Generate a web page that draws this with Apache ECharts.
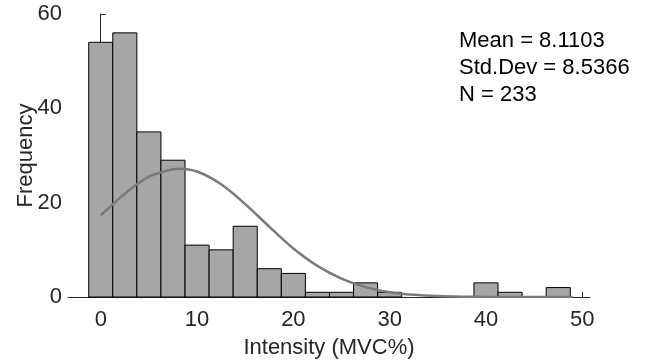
<!DOCTYPE html>
<html>
<head>
<meta charset="utf-8">
<script src="https://cdn.jsdelivr.net/npm/echarts@6/dist/echarts.min.js"></script>
<style>
  html, body { margin: 0; padding: 0; background: #fff; }
  #chart { width: 646px; height: 364px; }
</style>
</head>
<body>
<div id="chart"></div>
<script>
// histogram bins (centres, width 2.5) and counts
const binCenters = [0, 2.5, 5, 7.5, 10, 12.5, 15, 17.5, 20, 22.5, 25, 27.5, 30, 32.5, 35, 37.5, 40, 42.5, 45, 47.5];
const counts = [54, 56, 35, 29, 11, 10, 15, 6, 5, 1, 1, 3, 1, 0, 0, 0, 3, 1, 0, 2];
const binWidth = 2.5;

// fitted normal curve
const curveX = [0, 2.5, 5, 7.5, 8.1, 10, 12.5, 15, 17.5, 20, 22.5, 25, 27.5, 30, 32.5, 35, 37.5, 40, 42.5, 45, 47.5, 49];
const curveY = [17.3, 21.9, 25.5, 27.1, 27.2, 26.6, 23.9, 19.7, 14.9, 10.3, 6.6, 3.9, 2.1, 1.0, 0.46, 0.19, 0.07, 0.02, 0.01, 0, 0, 0];

const xTicks = [0, 10, 20, 30, 40, 50];
const yTicks = [0, 20, 40, 60];
const statsLines = ['Mean = 8.1103', 'Std.Dev = 8.5366', 'N = 233'];

const font = 'Liberation Sans, Arial, Helvetica, sans-serif';
const ink = '#262626';
const fs = 22;

const chart = echarts.init(document.getElementById('chart'));

const option = {
  animation: false,
  grid: { left: 68, right: 56, top: 14, bottom: 67, outerBoundsMode: 'none' },
  xAxis: {
    type: 'value',
    min: -3.4,
    max: 50.8,
    name: 'Intensity (MVC%)',
    nameLocation: 'middle',
    nameGap: 40,
    nameMoveOverlap: false,
    nameTextStyle: { fontFamily: font, fontSize: fs, color: ink },
    splitLine: { show: false },
    axisLine: { lineStyle: { color: ink, width: 1 } },
    axisTick: { show: true, inside: true, length: 5, customValues: xTicks, lineStyle: { color: ink } },
    axisLabel: { customValues: xTicks, fontFamily: font, fontSize: fs, color: ink, margin: 12 }
  },
  yAxis: {
    type: 'value',
    min: 0,
    max: 60,
    interval: 20,
    name: 'Frequency',
    nameLocation: 'middle',
    nameGap: 31,
    nameMoveOverlap: false,
    nameTextStyle: { fontFamily: font, fontSize: fs, color: ink },
    splitLine: { show: false },
    axisLine: { show: true, lineStyle: { color: ink, width: 1 } },
    axisTick: { show: true, inside: true, length: 5, customValues: yTicks, lineStyle: { color: ink } },
    axisLabel: { customValues: yTicks, fontFamily: font, fontSize: fs, color: ink, margin: 6 }
  },
  graphic: statsLines.map((t, i) => ({
    type: 'text',
    left: 459,
    top: 30 + i * 27,
    style: { text: t, fontFamily: font, fontSize: fs, fill: '#000' }
  })),
  series: [
    {
      type: 'custom',
      data: binCenters.map((c, i) => [c - binWidth / 2, c + binWidth / 2, counts[i]]),
      encode: { x: [0, 1], y: 2 },
      renderItem: (params, api) => {
        const h = api.value(2);
        if (!h) return null;
        const p0 = api.coord([api.value(0), 0]);
        const p1 = api.coord([api.value(1), h]);
        return {
          type: 'rect',
          shape: { x: p0[0], y: p1[1], width: p1[0] - p0[0], height: p0[1] - p1[1] },
          style: { fill: '#a6a6a6', stroke: '#000', lineWidth: 1 }
        };
      },
      z: 2
    },
    {
      type: 'line',
      data: curveX.map((x, i) => [x, curveY[i]]),
      smooth: 0.3,
      showSymbol: false,
      lineStyle: { color: '#7a7a7a', width: 2.5 },
      z: 3
    }
  ]
};

chart.setOption(option);
</script>
</body>
</html>
